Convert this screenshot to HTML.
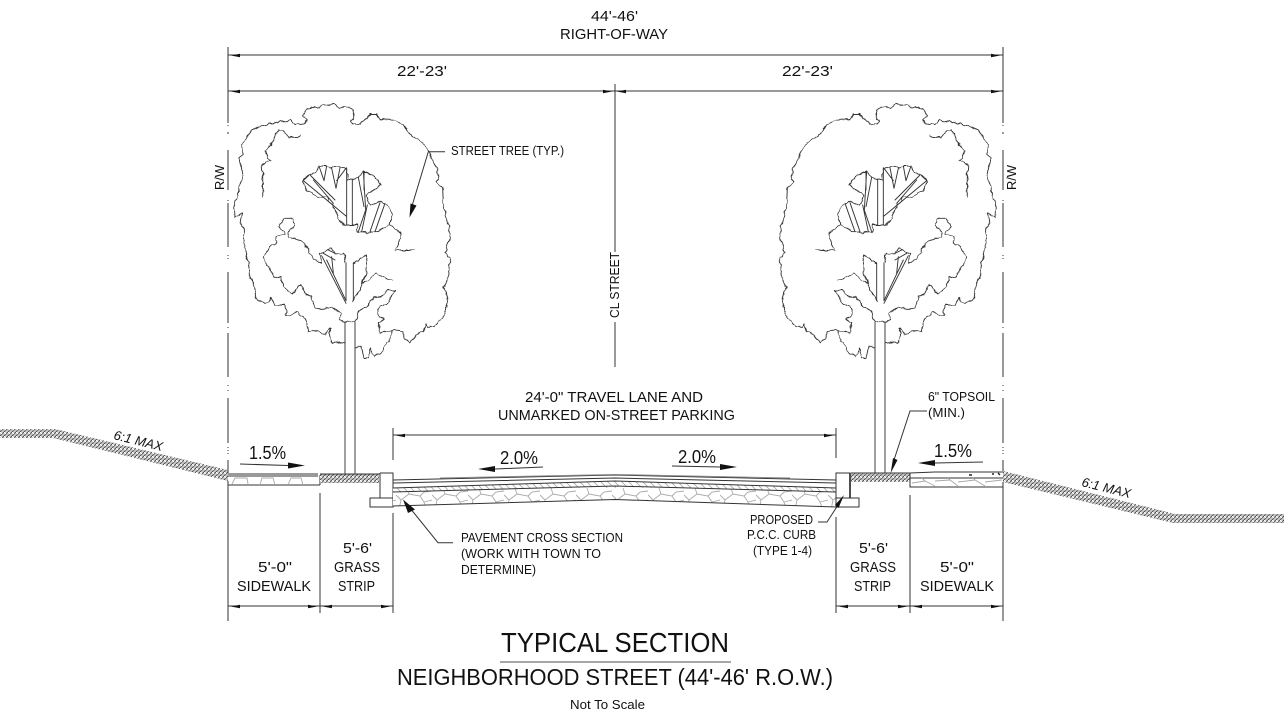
<!DOCTYPE html>
<html>
<head>
<meta charset="utf-8">
<title>Typical Section</title>
<style>
html,body{margin:0;padding:0;background:#fff;width:1284px;height:718px;overflow:hidden}
svg{display:block}
text{font-family:"Liberation Sans",sans-serif;fill:#111}
.l{stroke:#333;stroke-width:1;fill:none}
.c{stroke:#333;stroke-width:1;fill:none;shape-rendering:crispEdges}
.t{stroke:#333;stroke-width:2.8;fill:none;stroke-linejoin:round;stroke-linecap:round}
.a{fill:#111;stroke:none}
</style>
</head>
<body>
<svg width="1284" height="718" viewBox="0 0 1284 718" xmlns="http://www.w3.org/2000/svg">
<defs>
<filter id="w" x="-5%" y="-5%" width="110%" height="110%" filterUnits="objectBoundingBox" primitiveUnits="userSpaceOnUse">
<feTurbulence type="fractalNoise" baseFrequency="0.14" numOctaves="2" seed="7" result="n"/>
<feDisplacementMap in="SourceGraphic" in2="n" scale="5" xChannelSelector="R" yChannelSelector="G"/>
</filter>
<pattern id="h" width="4" height="4" patternUnits="userSpaceOnUse">
<rect width="4" height="4" fill="#ccc"/>
<path d="M0 4L4 0M-1 1L1 -1M3 5L5 3" stroke="#444" stroke-width=".9"/>
<path d="M0 0L2 2" stroke="#fff" stroke-width="1"/>
</pattern>
<pattern id="d" width="7" height="7" patternUnits="userSpaceOnUse">
<rect width="7" height="7" fill="#fff"/>
<path d="M0 0L7 7M-1 6L1 8M6 -1L8 1" stroke="#aaa" stroke-width=".8"/>
</pattern>
<pattern id="s" width="36" height="22" patternUnits="userSpaceOnUse" patternTransform="translate(0,488)">
<rect width="36" height="22" fill="#fff"/>
<path d="M3 22L5 12L13 6L24 8L28 14L31 22M24 8L28 4L36 3M5 12L0 7M13 6L11 0M28 14L36 12" stroke="#aaa" stroke-width=".9" fill="none"/>
</pattern>
<g id="tree">
<g filter="url(#w)">
<g transform="translate(220,90) scale(.33333)">
<path class="t" d="M375 760L355 757L335 755L330 735L330 715L315 730L290 725L265 725L258 690L240 675L230 665L215 675L197 675L195 645L165 645L155 625L135 640L120 635L108 625L104 590L90 565L88 525L75 485L73 420L62 395L68 368L45 378L42 345L50 325L60 290L70 255L58 208L68 190L65 170L80 140L100 120L125 105L160 97L175 100L182 88L200 98L212 90L225 105L250 100L262 90L248 75L262 60L285 50L320 47L345 42L360 52L385 50L400 62L405 85L392 92L400 105L420 105L435 88L450 72L470 72L480 88L520 90L550 105L568 125L572 138L600 150L620 175L628 195L650 235L655 262L650 275L668 295L670 340L680 390L692 430L682 470L675 485L690 505L685 555L672 590L685 640L670 680L640 712L622 712L618 700L610 725L590 733L570 760L552 745L550 725L545 725L513 722"/>
<path class="t" d="M405 772L425 772L432 805L445 800L450 775L465 802L480 790L495 765L510 755L513 722L480 728L475 700L490 690L472 670L480 650L500 640L530 600L505 600L480 625L462 618L440 650L415 665L405 695L375 695L358 690L362 670L345 655L335 650L310 658L285 650L270 620L255 610L250 595L240 585L215 612L190 590L185 565L165 560L150 540L130 500L150 470L172 455L170 440L195 430L178 412L190 385L220 385L222 410L205 425L207 440L235 445L265 475L263 490L285 510L305 520L300 490L320 480L335 475L345 490L370 490L378 518"/>
<path class="t" d="M130 320L128 260L125 225L155 210L135 185L160 150L175 120L190 120L205 142L240 138"/>
<path class="t" d="M400 520L415 515L440 492L445 510L430 575L400 632M430 578L470 552L518 572"/>
<path class="t" d="M248 272L250 285L265 305L290 318L320 322L345 355L355 385L375 405L410 405L415 425L465 428L510 405L535 420L545 435L525 480L583 480M510 405L518 375L505 345L480 335L450 345L440 315L480 285L465 260L430 243L415 262L382 270L380 233L330 232L320 228L295 228L285 250L270 255L248 272"/>
</g>
</g>
<g transform="translate(220,90) scale(.33333)">
<path class="t" d="M378 518L378 632M400 518L400 632M305 497L378 640M320 510L378 632M335 500L340 550M345 490L325 480M310 490L345 510"/>
<path class="t" d="M380 233L380 405M397 268L397 405M415 262L432 350M430 243L437 360L415 425M442 345L425 425M480 338L450 425M495 340L465 425M250 272L378 378M270 255L345 330M280 270L340 340M297 228L312 272M320 228L312 272M335 235L348 295M360 233L348 295M378 235L350 272M432 245L432 300"/>
<path class="t" d="M375 695L375 1149M405 695L405 1149"/>
</g>
</g>
</defs>

<!-- trees -->
<use href="#tree"/>
<use href="#tree" transform="translate(1230,0) scale(-1,1)"/>

<!-- ground slopes -->
<polygon points="0,429 55,429 228,470 228,481 53,438 0,438" fill="url(#h)"/>
<polygon points="1003,471 1175,514 1284,514 1284,523 1173,523 1003,482" fill="url(#h)"/>

<!-- left sidewalk -->
<path class="c" d="M228 474H318M228 476H318M228 485H320M320 475V485"/>
<g stroke="#aaa" fill="none" stroke-width=".9">
<path d="M232 484L235 478H247L248 484M260 485L262 478H273L275 485M288 485L291 478H301L303 485"/>
</g>
<rect x="320" y="474" width="59" height="9" fill="url(#h)"/>
<path class="c" d="M320 474H380"/>
<!-- left curb -->
<path class="c" d="M380 473V498H370V507H393V473H380M370 498H393"/>

<!-- pavement -->
<polygon points="393,488 615,481 836,488 836,492 615,486 393,492" fill="url(#d)"/>
<polygon points="393,492 615,486 836,492 836,507 615,499.5 393,506" fill="url(#s)"/>
<path class="l" d="M393 480L615 475L836 480M393 483L615 478L836 483M393 488L615 481L836 488M393 492L615 486L836 492M393 506L615 499.5L836 507"/>
<path d="M440 478L615 474.5L790 478" stroke="#888" stroke-width="1" fill="none"/>

<!-- right curb -->
<path class="c" d="M836 473H850V498H859V507H836ZM836 498H850"/>
<path d="M850 473V498" stroke="#222" stroke-width="1.6"/>
<rect x="851" y="473" width="59" height="9" fill="url(#h)"/>
<!-- right sidewalk -->
<path class="l" d="M851 473H910L935 472H1003"/>
<path class="c" d="M910 473V487H1003M910 478H1003"/>
<g stroke="#aaa" fill="none" stroke-width=".9">
<path d="M912 483L925 481L935 486M935 481L950 480L958 486M958 482L975 480L985 486M985 482L1002 480M925 481L922 478M950 480L948 478M975 480L973 478"/>
</g>
<path d="M969 475L972 475M992 474L994 474M998 473L1000 475" stroke="#222" stroke-width="1.4"/>

<!-- extension lines -->
<path class="c" d="M228 47V123M228 125V126M228 132V134M228 150V190M228 200V201M228 203V247M228 255V256M228 258V259M228 272V323M228 327V328M228 333V377M228 385V386M228 390V391M228 398V443M228 447V448M228 450V451M228 453V454M228 460V473M228 481V621"/>
<path class="c" d="M1003 47V123M1003 125V126M1003 132V134M1003 150V190M1003 200V201M1003 203V247M1003 255V256M1003 258V259M1003 272V323M1003 327V328M1003 333V377M1003 385V386M1003 390V391M1003 398V443M1003 447V448M1003 450V451M1003 453V454M1003 460V471M1003 482V621"/>
<path class="c" d="M320 493V613M393 428V460M393 513V613M836 428V458M836 517V613M910 495V613"/>
<path class="c" d="M615 84V252M615 322V367"/>

<!-- dimension lines -->
<path class="c" d="M228 55H1003M228 91H1003M393 435H836M228 606H393M836 606H1003"/>
<g class="a">
<polygon points="231,55.5 240,53.8 240,57.2"/>
<polygon points="1000,55.5 991,53.8 991,57.2"/>
<polygon points="231,91.5 240,89.8 240,93.2"/>
<polygon points="612,91.5 603,89.8 603,93.2"/>
<polygon points="617,91.5 626,89.8 626,93.2"/>
<polygon points="1000,91.5 991,89.8 991,93.2"/>
<polygon points="396,435.5 405,433.8 405,437.2"/>
<polygon points="833,435.5 824,433.8 824,437.2"/>
<polygon points="231,606.5 240,604.8 240,608.2"/>
<polygon points="317,606.5 308,604.8 308,608.2"/>
<polygon points="323,606.5 332,604.8 332,608.2"/>
<polygon points="390,606.5 381,604.8 381,608.2"/>
<polygon points="839,606.5 848,604.8 848,608.2"/>
<polygon points="907,606.5 898,604.8 898,608.2"/>
<polygon points="913,606.5 922,604.8 922,608.2"/>
<polygon points="1000,606.5 991,604.8 991,608.2"/>
</g>

<!-- slope arrows -->
<path class="l" d="M240 464L288 465.5M983 462L935 463M543 467L495 469M672 466L720 467"/>
<g class="a">
<polygon points="305,465.5 288,462.5 288,468.5"/>
<polygon points="918,463 935,460 935,466"/>
<polygon points="478,469 495,466 495,472"/>
<polygon points="737,467 720,464 720,470"/>
</g>

<!-- leaders -->
<path class="l" d="M445 151.7H428.3L412 206"/>
<polygon class="a" points="409.5,217.5 410.5,203.5 416.5,205.5"/>
<path class="l" d="M927 411H910L894 460"/>
<polygon class="a" points="890.7,473 893,458 897.5,460"/>
<path class="l" d="M453 542.7H438L410 508"/>
<polygon class="a" points="403,499.5 415,509.5 408,513"/>
<path class="l" d="M818 522H827L840 502"/>
<polygon class="a" points="844,495 835,505 838.5,508"/>

<!-- text -->
<g font-size="15">
<text x="591" y="21" textLength="47" lengthAdjust="spacingAndGlyphs">44'-46'</text>
<text x="560" y="39" textLength="108" lengthAdjust="spacingAndGlyphs">RIGHT-OF-WAY</text>
<text x="397" y="76" textLength="50" lengthAdjust="spacingAndGlyphs">22'-23'</text>
<text x="782" y="76" textLength="51" lengthAdjust="spacingAndGlyphs">22'-23'</text>
<text x="525" y="402" textLength="178" lengthAdjust="spacingAndGlyphs">24'-0" TRAVEL LANE AND</text>
<text x="498" y="420" textLength="237" lengthAdjust="spacingAndGlyphs">UNMARKED ON-STREET PARKING</text>
<text x="258" y="572" textLength="34" lengthAdjust="spacingAndGlyphs">5'-0"</text>
<text x="237" y="591" textLength="74" lengthAdjust="spacingAndGlyphs">SIDEWALK</text>
<text x="343" y="553" textLength="29" lengthAdjust="spacingAndGlyphs">5'-6'</text>
<text x="334" y="572" textLength="46" lengthAdjust="spacingAndGlyphs">GRASS</text>
<text x="338" y="591" textLength="37" lengthAdjust="spacingAndGlyphs">STRIP</text>
<text x="859" y="553" textLength="29" lengthAdjust="spacingAndGlyphs">5'-6'</text>
<text x="850" y="572" textLength="46" lengthAdjust="spacingAndGlyphs">GRASS</text>
<text x="854" y="591" textLength="37" lengthAdjust="spacingAndGlyphs">STRIP</text>
<text x="940" y="572" textLength="34" lengthAdjust="spacingAndGlyphs">5'-0"</text>
<text x="920" y="591" textLength="74" lengthAdjust="spacingAndGlyphs">SIDEWALK</text>
</g>
<g font-size="13">
<text x="451" y="155" textLength="113" lengthAdjust="spacingAndGlyphs">STREET TREE (TYP.)</text>
<text x="928" y="401" textLength="67" lengthAdjust="spacingAndGlyphs">6" TOPSOIL</text>
<text x="928" y="417" textLength="37" lengthAdjust="spacingAndGlyphs">(MIN.)</text>
<text x="461" y="542" textLength="162" lengthAdjust="spacingAndGlyphs">PAVEMENT CROSS SECTION</text>
<text x="461" y="558" textLength="140" lengthAdjust="spacingAndGlyphs">(WORK WITH TOWN TO</text>
<text x="461" y="574" textLength="75" lengthAdjust="spacingAndGlyphs">DETERMINE)</text>
<text x="750" y="524" textLength="63" lengthAdjust="spacingAndGlyphs">PROPOSED</text>
<text x="747" y="539" textLength="69" lengthAdjust="spacingAndGlyphs">P.C.C. CURB</text>
<text x="753" y="555" textLength="59" lengthAdjust="spacingAndGlyphs">(TYPE 1-4)</text>
<text x="570" y="709" textLength="75" lengthAdjust="spacingAndGlyphs">Not To Scale</text>
</g>
<g font-size="18">
<text x="249" y="459" textLength="37" lengthAdjust="spacingAndGlyphs">1.5%</text>
<text x="934" y="457" textLength="38" lengthAdjust="spacingAndGlyphs">1.5%</text>
<text x="500" y="464" textLength="38" lengthAdjust="spacingAndGlyphs">2.0%</text>
<text x="678" y="463" textLength="38" lengthAdjust="spacingAndGlyphs">2.0%</text>
</g>
<text transform="translate(224,190) rotate(-90)" font-size="13" textLength="25" lengthAdjust="spacingAndGlyphs">R/W</text>
<text transform="translate(1016,190) rotate(-90)" font-size="13" textLength="25" lengthAdjust="spacingAndGlyphs">R/W</text>
<text transform="translate(619,318) rotate(-90)" font-size="13" textLength="66" lengthAdjust="spacingAndGlyphs">CL STREET</text>
<text transform="translate(113,439) rotate(14)" font-size="13" font-style="italic" textLength="50" lengthAdjust="spacingAndGlyphs">6:1 MAX</text>
<text transform="translate(1081,486) rotate(14)" font-size="13" font-style="italic" textLength="50" lengthAdjust="spacingAndGlyphs">6:1 MAX</text>

<text x="501" y="652" font-size="28" textLength="228" lengthAdjust="spacingAndGlyphs">TYPICAL SECTION</text>
<path d="M500 662H731" stroke="#888" stroke-width="1.5"/>
<text x="397" y="685" font-size="23" textLength="436" lengthAdjust="spacingAndGlyphs">NEIGHBORHOOD STREET (44'-46' R.O.W.)</text>
</svg>
</body>
</html>
